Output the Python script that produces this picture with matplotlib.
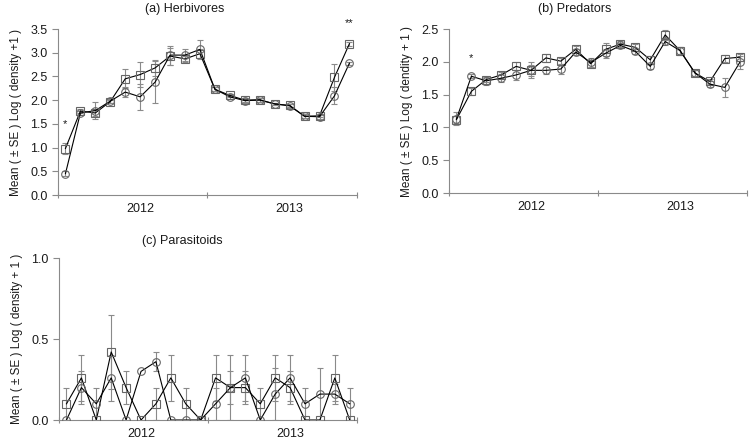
import numpy as np
import matplotlib
matplotlib.use("Agg")
import matplotlib.pyplot as plt

plt.rcParams["font.family"] = ["Liberation Sans", "DejaVu Sans"]

# ── data (20 sampling dates, 2012 – 2013) ─────────────────────────────────────
herb_sq     = [0.98, 1.77, 1.73, 1.97, 2.45, 2.54, 2.68, 2.93, 2.87, 2.98,
               2.23, 2.10, 2.00, 2.01, 1.92, 1.89, 1.66, 1.67, 2.48, 3.19]
herb_sq_se  = [0.12, 0.04, 0.06, 0.04, 0.20, 0.26, 0.17, 0.18, 0.06, 0.10,
               0.04, 0.04, 0.04, 0.04, 0.03, 0.03, 0.04, 0.03, 0.28, 0.04]
herb_ci     = [0.45, 1.73, 1.78, 1.98, 2.17, 2.07, 2.38, 2.95, 2.95, 3.07,
               2.23, 2.07, 1.99, 2.00, 1.92, 1.88, 1.66, 1.65, 2.09, 2.78]
herb_ci_se  = [0.05, 0.04, 0.18, 0.04, 0.10, 0.27, 0.45, 0.20, 0.12, 0.20,
               0.04, 0.04, 0.04, 0.04, 0.03, 0.04, 0.04, 0.04, 0.18, 0.03]

pred_sq     = [1.12, 1.55, 1.73, 1.80, 1.93, 1.87, 2.06, 2.01, 2.19, 1.97,
               2.19, 2.27, 2.22, 2.03, 2.41, 2.17, 1.83, 1.70, 2.05, 2.07]
pred_sq_se  = [0.05, 0.05, 0.04, 0.05, 0.06, 0.08, 0.06, 0.05, 0.05, 0.05,
               0.10, 0.04, 0.05, 0.06, 0.07, 0.05, 0.04, 0.04, 0.06, 0.05]
pred_ci     = [1.13, 1.78, 1.71, 1.75, 1.80, 1.87, 1.87, 1.89, 2.15, 1.99,
               2.13, 2.25, 2.16, 1.93, 2.31, 2.17, 1.83, 1.66, 1.61, 1.99]
pred_ci_se  = [0.10, 0.03, 0.06, 0.06, 0.08, 0.12, 0.05, 0.08, 0.04, 0.07,
               0.07, 0.04, 0.04, 0.04, 0.05, 0.06, 0.04, 0.04, 0.15, 0.10]

para_sq     = [0.10, 0.26, 0.00, 0.42, 0.20, 0.00, 0.10, 0.26, 0.10, 0.00,
               0.26, 0.20, 0.20, 0.10, 0.26, 0.20, 0.00, 0.00, 0.26, 0.00]
para_sq_se  = [0.10, 0.14, 0.00, 0.23, 0.10, 0.00, 0.10, 0.14, 0.10, 0.00,
               0.14, 0.20, 0.10, 0.10, 0.14, 0.10, 0.00, 0.00, 0.14, 0.00]
para_ci     = [0.00, 0.20, 0.10, 0.26, 0.00, 0.30, 0.36, 0.00, 0.00, 0.00,
               0.10, 0.20, 0.26, 0.00, 0.16, 0.26, 0.10, 0.16, 0.16, 0.10]
para_ci_se  = [0.00, 0.10, 0.10, 0.14, 0.00, 0.00, 0.06, 0.00, 0.00, 0.00,
               0.10, 0.10, 0.14, 0.00, 0.16, 0.14, 0.10, 0.16, 0.06, 0.10]

years = ["2012", "2013"]

# ── styling ───────────────────────────────────────────────────────────────────
GREY  = "#8a8a8a"
TEXT  = "#1a1a1a"
FS    = 8.5

fig = plt.figure(figsize=(7.51, 4.43), dpi=100)

ax_a = fig.add_axes([0.0772, 0.5598, 0.398, 0.3747])
ax_b = fig.add_axes([0.5979, 0.5643, 0.397, 0.3702])
ax_c = fig.add_axes([0.0786, 0.0519, 0.397, 0.3657])

x = np.arange(20) + 0.5


def draw(ax, sq, sq_se, ci, ci_se, ymax, yticks, ylabel):
    for vals, se, mk in ((sq, sq_se, "s"), (ci, ci_se, "o")):
        vals = np.array(vals)
        se = np.array(se)
        keep = se > 0
        ax.errorbar(x[keep], vals[keep], yerr=se[keep], fmt="none",
                    ecolor=GREY, elinewidth=0.8, capsize=2.2, capthick=0.8,
                    zorder=2)
        ax.plot(x, vals, color="black", lw=0.8, marker=mk, markersize=5.5,
                markerfacecolor="none", markeredgecolor="#666666",
                markeredgewidth=0.8, zorder=3)
    ax.set_xlim(0, 20)
    ax.set_ylim(0, ymax)
    ax.set_yticks(yticks)
    ax.set_yticklabels([f"{v:.1f}" for v in yticks])
    ax.set_xticks([0, 10, 20], minor=True)
    ax.set_xticks([5.5, 15.5])
    ax.set_xticklabels(years)
    ax.tick_params(axis="x", which="major", length=0, labelsize=FS + 0.5,
                   labelcolor=TEXT, pad=6)
    ax.tick_params(axis="x", which="minor", direction="inout", length=4,
                   color=GREY, width=0.8)
    ax.tick_params(axis="y", direction="out", length=4, color=GREY,
                   width=0.8, labelsize=FS + 0.5, labelcolor=TEXT)
    for side in ("top", "right"):
        ax.spines[side].set_visible(False)
    for side in ("left", "bottom"):
        ax.spines[side].set_color(GREY)
        ax.spines[side].set_linewidth(0.8)
    ax.set_ylabel(ylabel, fontsize=FS, color=TEXT, labelpad=6)


draw(ax_a, herb_sq, herb_sq_se, herb_ci, herb_ci_se, 3.5,
     np.arange(0, 3.51, 0.5), "Mean ( \u00b1 SE ) Log ( density +1 )")
draw(ax_b, pred_sq, pred_sq_se, pred_ci, pred_ci_se, 2.5,
     np.arange(0, 2.51, 0.5), "Mean ( \u00b1 SE ) Log ( dendity + 1 )")
draw(ax_c, para_sq, para_sq_se, para_ci, para_ci_se, 1.0,
     [0.0, 0.5, 1.0], "Mean ( \u00b1 SE ) Log ( density + 1 )")

# significance marks
ax_a.text(x[0], 1.38, "*", ha="center", va="bottom", fontsize=8, color=TEXT)
ax_a.text(x[-1], 3.52, "**", ha="center", va="bottom", fontsize=8,
          color=TEXT, clip_on=False)
ax_b.text(x[1], 1.98, "*", ha="center", va="bottom", fontsize=8, color=TEXT)

# panel titles
fig.text(185 / 751, 1 - 9 / 443, "(a) Herbivores", ha="center", va="center",
         fontsize=9, color=TEXT)
fig.text(575 / 751, 1 - 9 / 443, "(b) Predators", ha="center", va="center",
         fontsize=9, color=TEXT)
fig.text(182 / 751, 1 - 241 / 443, "(c) Parasitoids", ha="center",
         va="center", fontsize=9, color=TEXT)

fig.savefig("out.png", dpi=100)
